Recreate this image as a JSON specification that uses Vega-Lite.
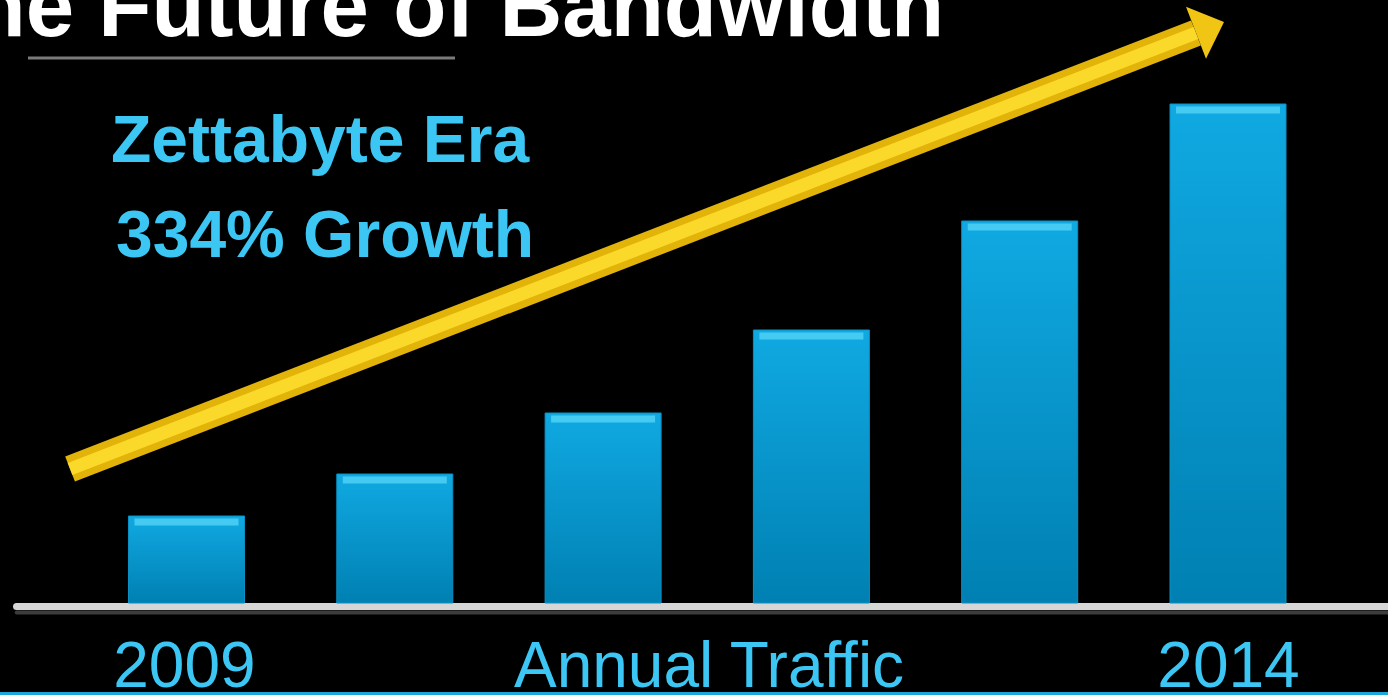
{
  "$schema": "https://vega.github.io/schema/vega-lite/v6.json",
  "width": 1388,
  "height": 695,
  "autosize": "none",
  "padding": 0,
  "background": "#000000",
  "config": {"view": {"stroke": null}, "font": "Liberation Sans"},
  "datasets": {
    "traffic": [
      {"year": 2009, "traffic": 87},
      {"year": 2010, "traffic": 129},
      {"year": 2011, "traffic": 190},
      {"year": 2012, "traffic": 273},
      {"year": 2013, "traffic": 382},
      {"year": 2014, "traffic": 499}
    ],
    "arrow": [
      {"year": 2008.441, "traffic": 134},
      {"year": 2013.846, "traffic": 570}
    ]
  },
  "encoding": {
    "x": {"field": "year", "type": "quantitative", "scale": {"domain": [2008.1047, 2014.7681], "nice": false, "zero": false, "padding": 0}, "axis": null},
    "y": {"field": "traffic", "type": "quantitative", "scale": {"domain": [-92, 603], "nice": false, "zero": false, "padding": 0}, "axis": null}
  },
  "layer": [
    {
      "data": {"values": [{"year": 2008.1047, "year2": 2014.7681, "traffic": -90.5}]},
      "mark": {"type": "rule", "color": "#1ba6dc", "strokeWidth": 3},
      "encoding": {"x2": {"field": "year2"}}
    },
    {
      "data": {"values": [{"year": 2008.185, "year2": 2014.7681, "traffic": -9.5}]},
      "mark": {"type": "rule", "color": "#3c3c3c", "strokeWidth": 4, "strokeCap": "round"},
      "encoding": {"x2": {"field": "year2"}}
    },
    {
      "data": {"values": [{"year": 2008.184, "year2": 2014.7681, "traffic": -3.5}]},
      "mark": {"type": "rule", "color": "#d6d6d6", "strokeWidth": 7, "strokeCap": "round"},
      "encoding": {"x2": {"field": "year2"}}
    },
    {
      "data": {"values": [{"year": 2008.239, "year2": 2010.289, "traffic": 545}]},
      "mark": {"type": "rule", "color": "#7a7a7a", "strokeWidth": 3},
      "encoding": {"x2": {"field": "year2"}}
    },
    {
      "data": {"name": "traffic"},
      "mark": {
        "type": "bar",
        "width": 116,
        "fill": {"gradient": "linear", "x1": 0, "y1": 0, "x2": 0, "y2": 1, "stops": [{"offset": 0, "color": "#10a9e2"}, {"offset": 1, "color": "#0080b2"}]},
        "stroke": "#0b90c4",
        "strokeWidth": 1
      },
      "encoding": {"y2": {"datum": 0}}
    },
    {
      "data": {"name": "traffic"},
      "mark": {"type": "tick", "orient": "horizontal", "size": 104, "thickness": 7, "color": "#45cbf2", "yOffset": 6, "opacity": 1}
    },
    {
      "data": {"name": "arrow"},
      "mark": {"type": "line", "color": "#e2b308", "strokeWidth": 27, "strokeCap": "butt"}
    },
    {
      "data": {"name": "arrow"},
      "mark": {"type": "line", "color": "#fbd92a", "strokeWidth": 13, "strokeCap": "butt"}
    },
    {
      "data": {"values": [{"year": 2013.9136, "traffic": 575.6}]},
      "mark": {"type": "point", "shape": "M 0.5 0 L -0.5 -0.93 L -0.5 0.93 Z", "size": 3600, "angle": -21, "filled": true, "color": "#f0c514", "opacity": 1}
    },
    {
      "data": {"values": [{"year": 2012.6367, "traffic": 567, "label": "The Future of Bandwidth"}]},
      "mark": {"type": "text", "align": "right", "baseline": "alphabetic", "fontSize": 87, "fontWeight": "bold", "color": "#ffffff"},
      "encoding": {"text": {"field": "label"}}
    },
    {
      "data": {"values": [
        {"year": 2009.641, "traffic": 441, "label": "Zettabyte Era"},
        {"year": 2009.665, "traffic": 346, "label": "334% Growth"}
      ]},
      "mark": {"type": "text", "align": "center", "baseline": "alphabetic", "fontSize": 66, "fontWeight": "bold", "color": "#3cc6f4"},
      "encoding": {"text": {"field": "label"}}
    },
    {
      "data": {"values": [
        {"year": 2008.99, "traffic": -84, "label": "2009"},
        {"year": 2011.5085, "traffic": -84, "label": "Annual Traffic"},
        {"year": 2014.0024, "traffic": -84, "label": "2014"}
      ]},
      "mark": {"type": "text", "align": "center", "baseline": "alphabetic", "fontSize": 64, "color": "#3cc6f4"},
      "encoding": {"text": {"field": "label"}}
    }
  ]
}
